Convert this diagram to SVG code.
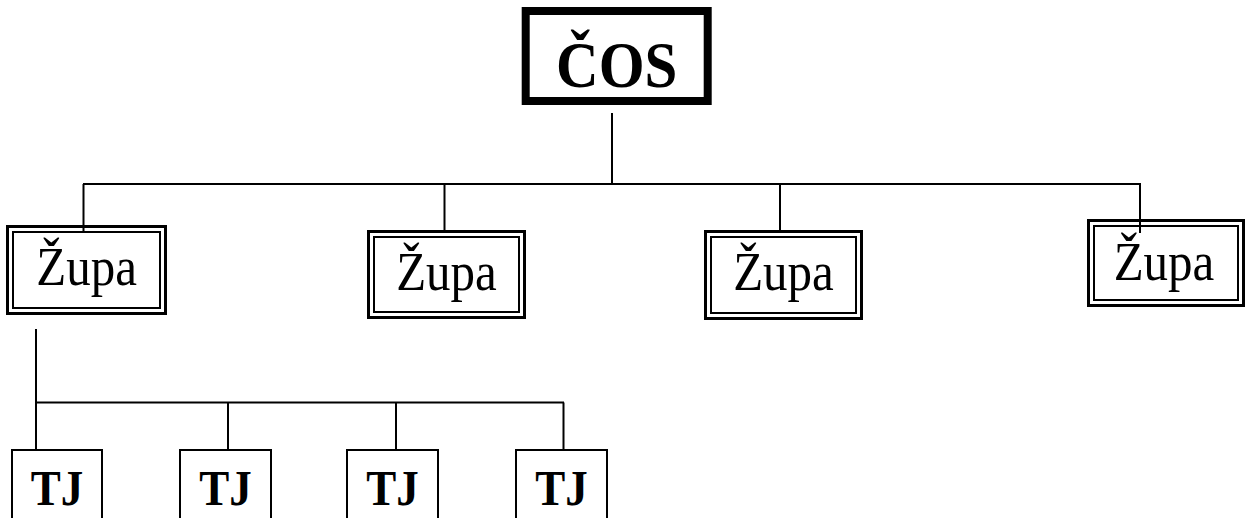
<svg xmlns="http://www.w3.org/2000/svg" width="1255" height="518" viewBox="0 0 1255 518">
<style>
  .bg { fill: #ffffff; }
  .conn line { stroke: #000; stroke-width: 2; fill: none; }
  .root { fill: #fff; stroke: #000; stroke-width: 8; }
  .outer { fill: #fff; stroke: #000; stroke-width: 3; }
  .inner { fill: none; stroke: #000; stroke-width: 2; }
  .tj { fill: #fff; stroke: #000; stroke-width: 2; }
  .t-root { font-family: "Liberation Serif", "Times New Roman", serif; font-weight: bold; font-size: 59px; text-anchor: middle; fill: #000; }
  .t-zupa { font-family: "Liberation Serif", "Times New Roman", serif; font-size: 49px; text-anchor: middle; fill: #000; }
  .t-tj { font-family: "Liberation Serif", "Times New Roman", serif; font-weight: bold; font-size: 45px; text-anchor: middle; fill: #000; }
</style>
<rect class="bg" x="0" y="0" width="1255" height="518"/>

<g id="root">
  <rect class="root" x="525.7" y="11" width="182" height="90"/>
  <text class="t-root" transform="translate(616.7,86.7) scale(1,1.12)">ČOS</text>
</g>

<g id="zupa1">
  <rect class="outer" x="7.5" y="226.5" width="158" height="87"/>
  <rect class="inner" x="13" y="232" width="147" height="76"/>
  <text class="t-zupa" transform="translate(86.7,285) scale(1,1.1)">Župa</text>
</g>
<g id="zupa2">
  <rect class="outer" x="368.5" y="231.5" width="156" height="86"/>
  <rect class="inner" x="374" y="237" width="145" height="75"/>
  <text class="t-zupa" transform="translate(446.5,290) scale(1,1.1)">Župa</text>
</g>
<g id="zupa3">
  <rect class="outer" x="705.5" y="231.5" width="156" height="87"/>
  <rect class="inner" x="711" y="237" width="145" height="76"/>
  <text class="t-zupa" transform="translate(783.5,290) scale(1,1.1)">Župa</text>
</g>
<g id="zupa4">
  <rect class="outer" x="1088.5" y="220.5" width="155" height="85"/>
  <rect class="inner" x="1094" y="226" width="144" height="74"/>
  <text class="t-zupa" transform="translate(1164,280) scale(1,1.1)">Župa</text>
</g>

<g id="tj1">
  <rect class="tj" x="12" y="450" width="90" height="80"/>
  <text class="t-tj" transform="translate(57,505) scale(1,1.12)">TJ</text>
</g>
<g id="tj2">
  <rect class="tj" x="180" y="450" width="91" height="80"/>
  <text class="t-tj" transform="translate(225.5,505) scale(1,1.12)">TJ</text>
</g>
<g id="tj3">
  <rect class="tj" x="347" y="450" width="91" height="80"/>
  <text class="t-tj" transform="translate(392.5,505) scale(1,1.12)">TJ</text>
</g>
<g id="tj4">
  <rect class="tj" x="516" y="450" width="91" height="80"/>
  <text class="t-tj" transform="translate(561.5,505) scale(1,1.12)">TJ</text>
</g>

<g id="connectors" class="conn">
  <line x1="612" y1="113" x2="612" y2="184"/>
  <line x1="83" y1="184" x2="1141" y2="184"/>
  <line x1="83.5" y1="184" x2="83.5" y2="233"/>
  <line x1="444.5" y1="184" x2="444.5" y2="233"/>
  <line x1="780" y1="184" x2="780" y2="233"/>
  <line x1="1140" y1="184" x2="1140" y2="233"/>
  <line x1="36" y1="329" x2="36" y2="450"/>
  <line x1="35" y1="402.5" x2="564" y2="402.5"/>
  <line x1="228" y1="402.5" x2="228" y2="450"/>
  <line x1="396" y1="402.5" x2="396" y2="450"/>
  <line x1="563.5" y1="402.5" x2="563.5" y2="450"/>
</g>
</svg>
